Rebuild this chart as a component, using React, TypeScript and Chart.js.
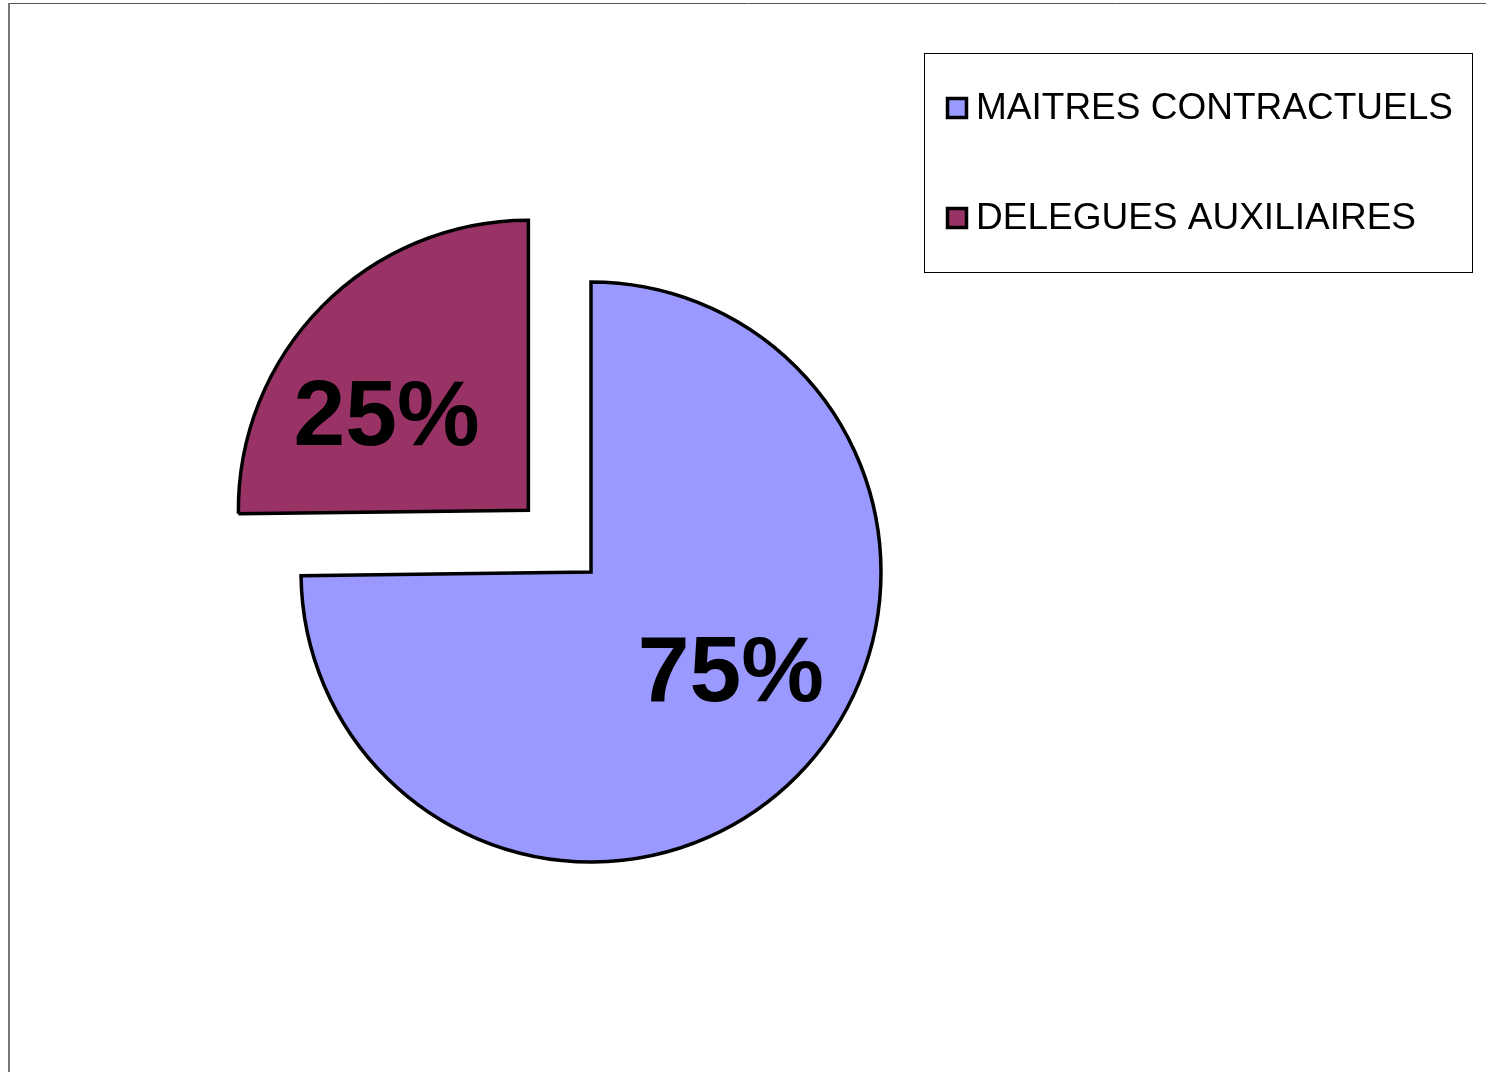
import React, { useEffect, useRef } from "react";
import { Chart, registerables } from "chart.js";

Chart.register(...registerables);

const categories: string[] = ["MAITRES CONTRACTUELS", "DELEGUES AUXILIAIRES"];
const values: number[] = [74.8, 25.2];
const valueLabels: string[] = ["75%", "25%"];
const colors: string[] = ["#9999FF", "#993366"];
// Chart.js translates an arc by offset / 4
const offsets: number[] = [0, 352];

const FONT = "'Liberation Sans', Arial, sans-serif";

const framePlugin = {
  id: "frame",
  beforeDraw(chart: any) {
    const ctx = chart.ctx;
    ctx.save();
    ctx.fillStyle = "#ffffff";
    ctx.fillRect(0, 0, chart.width, chart.height);
    ctx.strokeStyle = "#555555";
    ctx.lineWidth = 1;
    ctx.beginPath();
    ctx.moveTo(9, 3.5);
    ctx.lineTo(chart.width, 3.5);
    ctx.stroke();
    ctx.strokeStyle = "#777777";
    ctx.lineWidth = 2;
    ctx.beginPath();
    ctx.moveTo(9, 3);
    ctx.lineTo(9, chart.height);
    ctx.stroke();
    ctx.restore();
  },
};

const labelPlugin = {
  id: "sliceLabels",
  afterDatasetsDraw(chart: any) {
    const ctx = chart.ctx;
    const meta = chart.getDatasetMeta(0);
    ctx.save();
    ctx.font = `bold 93px ${FONT}`;
    ctx.fillStyle = "#000000";
    ctx.textAlign = "center";
    ctx.textBaseline = "middle";
    meta.data.forEach((arc: any, i: number) => {
      const p = arc.getProps(["x", "y", "startAngle", "endAngle", "outerRadius"], true);
      const off = (offsets[i] || 0) / 4;
      const mid = (p.startAngle + p.endAngle) / 2;
      const cx = p.x + Math.cos(mid) * off;
      const cy = p.y + Math.sin(mid) * off;
      const a = mid - (10 * Math.PI) / 180;
      const r = p.outerRadius * 0.59;
      ctx.fillText(valueLabels[i], cx + Math.cos(a) * r - 1, cy + Math.sin(a) * r + 6);
    });
    ctx.restore();
  },
};

const legendPlugin = {
  id: "boxLegend",
  afterDraw(chart: any) {
    const ctx = chart.ctx;
    ctx.save();
    ctx.strokeStyle = "#000000";
    ctx.lineWidth = 1;
    ctx.strokeRect(924.5, 53.5, 548, 219);
    ctx.font = `37px ${FONT}`;
    ctx.textBaseline = "middle";
    ctx.textAlign = "left";
    categories.forEach((c, i) => {
      const y = 108 + i * 110;
      ctx.fillStyle = colors[i];
      ctx.fillRect(947, y - 10, 20, 20);
      ctx.strokeStyle = "#000000";
      ctx.lineWidth = 3.5;
      ctx.strokeRect(947.5, y - 9.5, 19, 19);
      ctx.fillStyle = "#000000";
      ctx.fillText(c, 976, y + 1);
    });
    ctx.restore();
  },
};

export default function App() {
  const ref = useRef<HTMLCanvasElement | null>(null);
  useEffect(() => {
    if (!ref.current) return;
    const chart = new Chart(ref.current, {
      type: "pie",
      data: {
        labels: categories,
        datasets: [
          {
            data: values,
            backgroundColor: colors,
            borderColor: "#000000",
            borderWidth: 3.5,
            borderJoinStyle: "miter",
            offset: offsets,
            radius: 290,
          } as any,
        ],
      },
      options: {
        animation: false,
        responsive: true,
        maintainAspectRatio: false,
        layout: { padding: { left: 0, right: 304, top: 72, bottom: 0 } },
        plugins: {
          legend: { display: false },
          tooltip: { enabled: false },
        },
      },
      plugins: [framePlugin, labelPlugin, legendPlugin],
    });
    return () => chart.destroy();
  }, []);
  return (
    <div style={{ position: "fixed", left: 0, top: 0, width: 1486, height: 1072, background: "#fff" }}>
      <canvas ref={ref} />
    </div>
  );
}
